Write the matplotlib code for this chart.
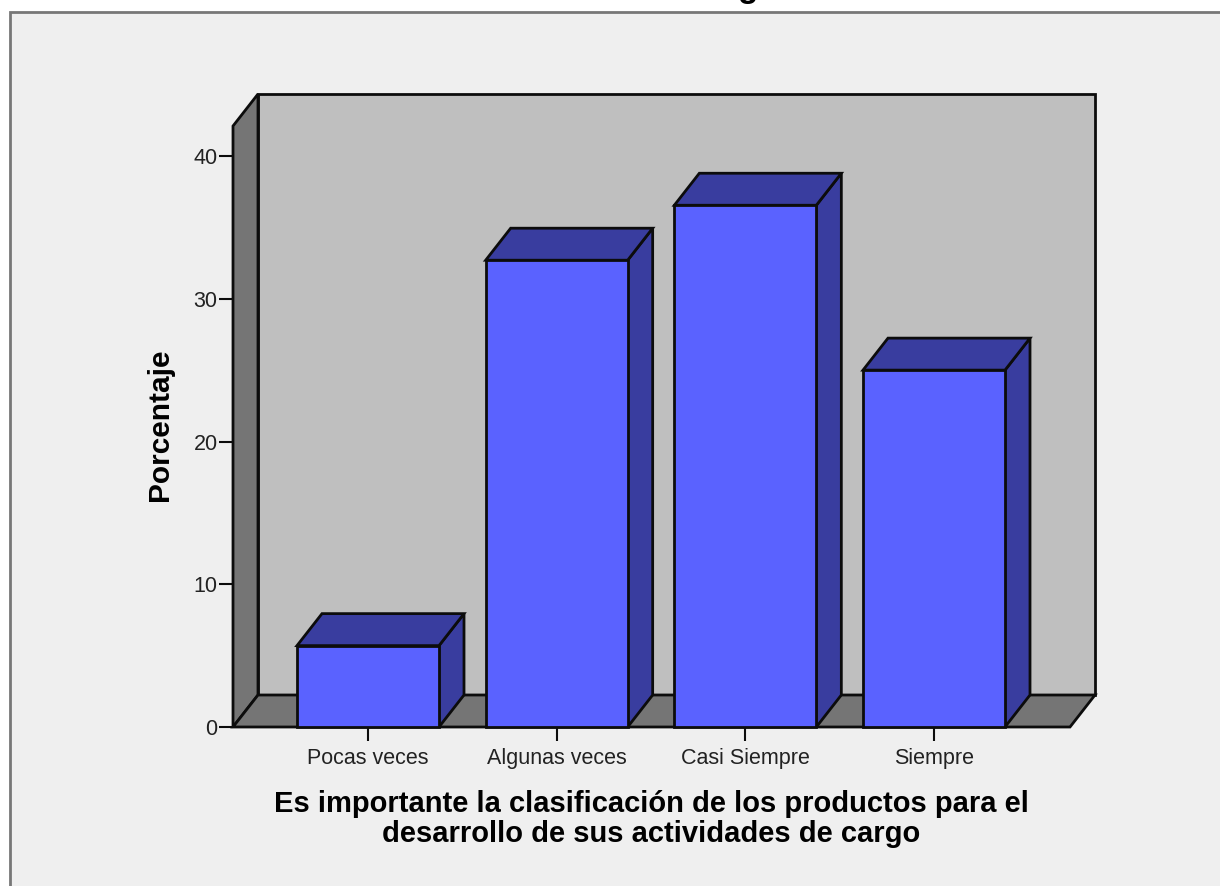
import matplotlib
matplotlib.use('Agg')
import matplotlib.pyplot as plt
from matplotlib.patches import Polygon, Rectangle

categories = ['Pocas veces', 'Algunas veces', 'Casi Siempre', 'Siempre']
porcentaje = [5.7, 32.7, 36.55, 25.0]
y_ticks = [0, 10, 20, 30, 40]
x_title = 'Es importante la clasificación de los productos para el\ndesarrollo de sus actividades de cargo'
y_title = 'Porcentaje'

W, H = 1220, 886
BG = '#efefef'
WALL = '#bfbfbf'
SIDE = '#757575'
FRONT = '#5a62ff'
DARK = '#393d9f'
INK = '#0c0c0c'

plt.rcParams['font.family'] = ['Liberation Sans', 'DejaVu Sans']

fig = plt.figure(figsize=(W / 100, H / 100), dpi=100, facecolor='white')

# marco gris del grafico
fig.add_artist(Rectangle((10 / W, -0.01), 1.02 - 10 / W, 1.01 - 12 / H, transform=fig.transFigure,
                         facecolor=BG, edgecolor='#777777', linewidth=2, zorder=-5))

# ejes = plano frontal del cubo
left, right, bottom, top = 233, 1070, 727, 126
ax = fig.add_axes([left / W, 1 - bottom / H, (right - left) / W, (bottom - top) / H])
px_y = (727 - 156) / 40
px_x = (934 - 368) / 3
ax.set_ylim(0, (bottom - top) / px_y)
ax.set_xlim((left - 368) / px_x, (right - 368) / px_x)
ax.patch.set_visible(False)
for s in ax.spines.values():
    s.set_visible(False)

dx = 25 / px_x
dy = 32 / px_y
x0, x1 = ax.get_xlim()
y1 = ax.get_ylim()[1]
lw = 2.0


def poly(pts, color, z):
    ax.add_patch(Polygon(pts, closed=True, facecolor=color, edgecolor=INK, linewidth=lw,
                         joinstyle='miter', clip_on=False, zorder=z))


# pared de fondo, pared lateral y piso
poly([(x0 + dx, dy), (x1 + dx, dy), (x1 + dx, y1 + dy), (x0 + dx, y1 + dy)], WALL, 1)
poly([(x0, 0), (x0 + dx, dy), (x0 + dx, y1 + dy), (x0, y1)], SIDE, 2)
poly([(x0, 0), (x1, 0), (x1 + dx, dy), (x0 + dx, dy)], SIDE, 2)

bar_w = 142 / px_x
for i, v in enumerate(porcentaje):
    a, b = i - bar_w / 2, i + bar_w / 2
    z = 3 + i
    poly([(b, 0), (b + dx, dy), (b + dx, v + dy), (b, v)], DARK, z)
    poly([(a, v), (b, v), (b + dx, v + dy), (a + dx, v + dy)], DARK, z)
    poly([(a, 0), (b, 0), (b, v), (a, v)], FRONT, z)

ax.set_xticks(range(len(categories)))
ax.set_xticklabels(categories, fontsize=15.5, color='#222222')
ax.set_yticks(y_ticks)
ax.set_yticklabels([str(t) for t in y_ticks], fontsize=15.5, color='#222222')
ax.tick_params(axis='x', length=10, width=1.5, color=INK, pad=5)
ax.tick_params(axis='y', length=10, width=1.5, color=INK, pad=1)

fig.text(651 / W, 1 - 819 / H, x_title, ha='center', va='center', fontsize=21,
         fontweight='bold', color='black', linespacing=1.05)
fig.text(160 / W, 1 - 425 / H, y_title, ha='center', va='center', rotation=90,
         fontsize=21.5, fontweight='bold', color='black')
# titulo recortado por el borde superior de la imagen
fig.text(748 / W, 1 + 3 / H, 'g', ha='center', va='baseline', fontsize=24, fontweight='bold', color='black')

fig.savefig('out.png', dpi=100, facecolor='white')
